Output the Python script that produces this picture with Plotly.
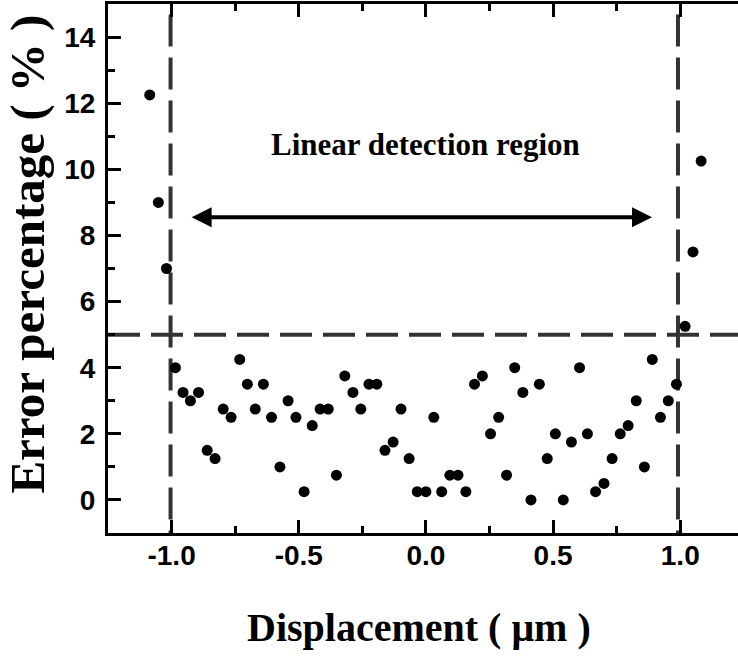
import plotly.graph_objects as go

# ---- data ----
displacement = [-1.086, -1.052, -1.020, -0.985, -0.955, -0.926, -0.894, -0.860, -0.829, -0.797,
                -0.766, -0.732, -0.702, -0.671, -0.639, -0.607, -0.574, -0.542, -0.511, -0.479,
                -0.447, -0.416, -0.384, -0.352, -0.319, -0.287, -0.256, -0.224, -0.193, -0.161,
                -0.129, -0.098, -0.066, -0.034, 0.000, 0.031, 0.062, 0.094, 0.126, 0.157,
                0.191, 0.222, 0.254, 0.286, 0.317, 0.349, 0.381, 0.413, 0.446, 0.477,
                0.509, 0.540, 0.572, 0.604, 0.635, 0.667, 0.700, 0.732, 0.764, 0.795,
                0.827, 0.859, 0.890, 0.922, 0.953, 0.985, 1.019, 1.050, 1.082]
error_pct = [12.25, 9.0, 7.0, 4.0, 3.25, 3.0, 3.25, 1.5, 1.25, 2.75,
             2.5, 4.25, 3.5, 2.75, 3.5, 2.5, 1.0, 3.0, 2.5, 0.25,
             2.25, 2.75, 2.75, 0.75, 3.75, 3.25, 2.75, 3.5, 3.5, 1.5,
             1.75, 2.75, 1.25, 0.25, 0.25, 2.5, 0.25, 0.75, 0.75, 0.25,
             3.5, 3.75, 2.0, 2.5, 0.75, 4.0, 3.25, 0.0, 3.5, 1.25,
             2.0, 0.0, 1.75, 4.0, 2.0, 0.25, 0.5, 1.25, 2.0, 2.25,
             3.0, 1.0, 4.25, 2.5, 3.0, 3.5, 5.25, 7.5, 10.25]

x_tickvals = [-1.0, -0.5, 0.0, 0.5, 1.0]
x_ticktext = ["-1.0", "-0.5", "0.0", "0.5", "1.0"]
y_tickvals = [0, 2, 4, 6, 8, 10, 12, 14]

region_bounds = [-1.004, 0.991]     # vertical dashed lines
threshold = 5.0                      # horizontal dashed line
region_top = 14.68
arrow_span = [-0.927, 0.889]
arrow_y = 8.55
label_text = "Linear detection region"
label_pos = (0.0, 10.75)
x_title = "Displacement ( μm )"
y_title = "Error percentage ( % )"

x_range = [-1.25, 1.227]
y_range = [-1.0, 15.0]

fig = go.Figure()
fig.add_trace(go.Scatter(
    x=displacement, y=error_pct, mode="markers",
    marker=dict(color="black", size=11, line=dict(width=0)),
    showlegend=False, hoverinfo="x+y"))

dash_style = dict(color="#333333", width=4, dash="32px,11px")
for xb in region_bounds:
    fig.add_shape(type="line", xref="x", yref="y", x0=xb, x1=xb,
                  y0=region_top, y1=y_range[0], line=dash_style, layer="below")
fig.add_shape(type="line", xref="x", yref="y", x0=x_range[0], x1=x_range[1],
              y0=threshold, y1=threshold, line=dash_style, layer="below")

# double-headed arrow
fig.add_annotation(x=arrow_span[1], y=arrow_y, ax=arrow_span[0], ay=arrow_y,
                   xref="x", yref="y", axref="x", ayref="y", text="",
                   showarrow=True, arrowhead=2, startarrowhead=2, arrowside="end+start",
                   arrowwidth=4, arrowsize=1.0, startarrowsize=1.0, arrowcolor="black")
fig.add_annotation(x=label_pos[0], y=label_pos[1], xref="x", yref="y",
                   text="<b>" + label_text + "</b>", showarrow=False,
                   font=dict(family="Liberation Serif", size=31, color="black"))

# axis titles
fig.add_annotation(x=0.4937, y=-0.178, xref="paper", yref="paper",
                   xanchor="center", yanchor="middle", showarrow=False,
                   text="<b>" + x_title + "</b>",
                   font=dict(family="Liberation Serif", size=40, color="black"))
fig.add_annotation(x=-0.128, y=0.527, xref="paper", yref="paper",
                   xanchor="center", yanchor="middle", showarrow=False, textangle=-90,
                   text="<b>" + y_title + "</b>",
                   font=dict(family="Liberation Serif", size=49, color="black"))

tick_font = dict(family="Liberation Sans", size=28, color="black", weight="bold")
fig.update_xaxes(range=x_range, tickvals=x_tickvals, ticktext=x_ticktext,
                 showline=True, linecolor="black", linewidth=3, mirror="ticks",
                 ticks="inside", ticklen=13, tickwidth=3, tickcolor="black",
                 minor=dict(dtick=0.25, ticks="inside", ticklen=7, tickwidth=3, tickcolor="black"),
                 showgrid=False, zeroline=False, tickfont=tick_font, ticklabelstandoff=-5)
fig.update_yaxes(range=y_range, tickvals=y_tickvals,
                 showline=True, linecolor="black", linewidth=3, mirror=False,
                 ticks="inside", ticklen=13, tickwidth=3, tickcolor="black",
                 minor=dict(dtick=1, ticks="inside", ticklen=7, tickwidth=3, tickcolor="black"),
                 showgrid=False, zeroline=False, tickfont=tick_font, ticklabelstandoff=4)

fig.update_layout(width=738, height=656,
                  margin=dict(l=108, r=0, t=4, b=123, autoexpand=False),
                  plot_bgcolor="white", paper_bgcolor="white")

fig.write_html("out.html")
